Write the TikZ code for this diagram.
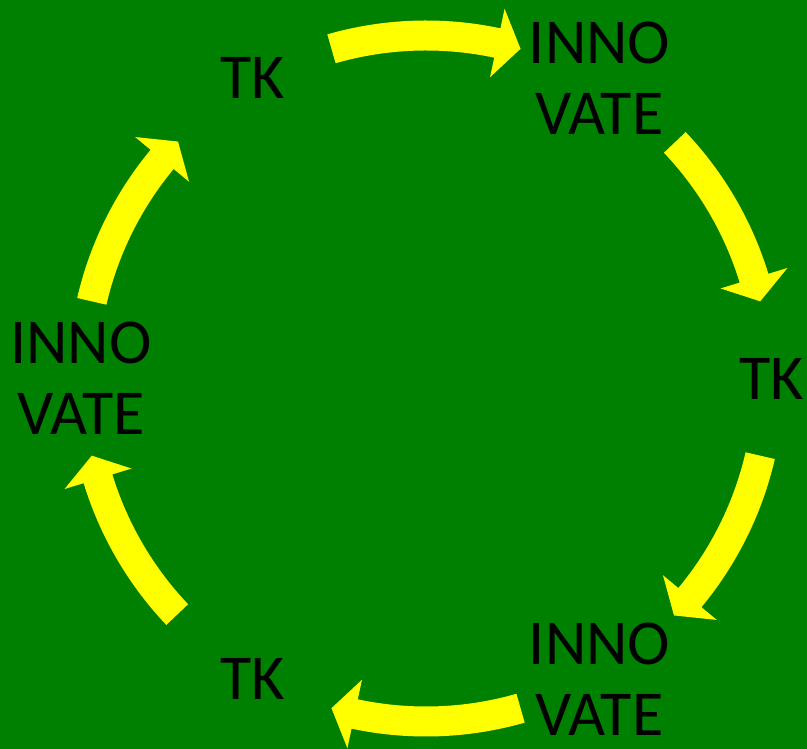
\documentclass[tikz,border=0pt]{standalone}
\usepackage{fontspec}
\setmainfont{Carlito}
\definecolor{bggreen}{RGB}{0,128,0}
\definecolor{arrowyellow}{RGB}{255,255,0}
\begin{document}
\begin{tikzpicture}[x=1pt,y=1pt,
  cyclelabel/.style={text=black, font=\fontsize{64}{71}\selectfont, align=center, inner sep=0pt},
  cyclearrow/.style={fill=arrowyellow, draw=none}]
\fill[bggreen] (0,0) rectangle (807,749);
\useasboundingbox (0,0) rectangle (807,749);
\begin{scope}[shift={(426,370.5)}]
  \node[cyclelabel] (tka) at (120:347pt) {TK};
  \node[cyclelabel] (innoa) at (60:347pt) {INNO\\VATE};
  \node[cyclelabel] (tkb) at (0:346pt) {TK};
  \node[cyclelabel] (innob) at (-60:347pt) {INNO\\VATE};
  \node[cyclelabel] (tkc) at (-120:347pt) {TK};
  \node[cyclelabel] (innoc) at (180:345pt) {INNO\\VATE};
  \foreach \t/\p in {106/74, 43.5/13, -13/-43.7, -74/-106, -136.5/-167, 167/136.3}{
    \pgfmathsetmacro{\b}{\p+4}
    \fill[cyclearrow] (\t:358pt) arc[start angle=\t, end angle=\b, radius=358pt]
      -- (\b:378pt) -- (\p:343pt) -- (\b:308pt) -- (\b:328pt)
      arc[start angle=\b, end angle=\t, radius=328pt] -- cycle;
  }
\end{scope}
\end{tikzpicture}
\end{document}
